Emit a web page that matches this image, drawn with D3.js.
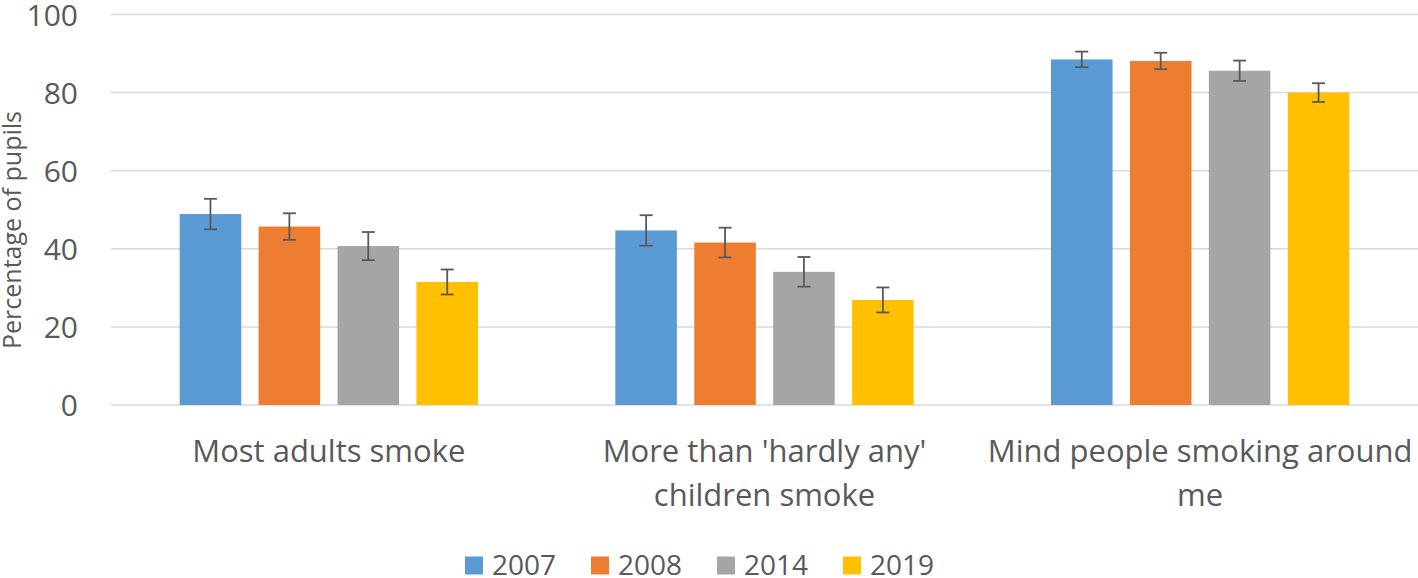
<!DOCTYPE html>
<html><head><meta charset="utf-8">
<script src="https://cdn.jsdelivr.net/npm/d3@7"></script>
<style>body{margin:0;background:#fff}svg{display:block}text{font-family:"Open Sans","Liberation Sans",sans-serif;fill:#595959}</style>
</head><body><svg id="c" width="1418" height="578"></svg>
<script>
const categories = ["Most adults smoke", "More than 'hardly any' children smoke", "Mind people smoking around me"];
const categoryLines = [["Most adults smoke"], ["More than 'hardly any'", "children smoke"], ["Mind people smoking around", "me"]];
const years = ["2007", "2008", "2014", "2019"];
const values2007 = [48.9, 44.7, 88.5];
const values2008 = [45.7, 41.6, 88.1];
const values2014 = [40.7, 34.1, 85.6];
const values2019 = [31.5, 26.9, 80.0];
const err2007 = [3.9, 3.9, 2.0];
const err2008 = [3.4, 3.8, 2.1];
const err2014 = [3.6, 3.8, 2.6];
const err2019 = [3.2, 3.2, 2.4];
const yTicks = [0, 20, 40, 60, 80, 100];
const colors = ["#5b9bd5", "#ed7d31", "#a5a5a5", "#ffc000"];

(function () {
const seriesVals = [values2007, values2008, values2014, values2019];
const seriesErr = [err2007, err2008, err2014, err2019];
const data = [];
categories.forEach((c, i) => years.forEach((yr, j) => data.push({cat: c, year: yr, v: seriesVals[j][i], e: seriesErr[j][i], color: colors[j]})));

const svg = d3.select("#c");
const mLeft = 111, mRight = 1418, mTop = 14.5, mBottom = 405;
const x = d3.scaleBand().domain(categories).range([mLeft, mRight]);
const xi = d3.scaleBand().domain(years).range([0, x.bandwidth()]).paddingInner(0.22).paddingOuter(0.87);
const y = d3.scaleLinear().domain([0, 100]).range([mBottom, mTop]);

svg.append("g").selectAll("line").data(yTicks).join("line")
  .attr("x1", mLeft).attr("x2", mRight).attr("y1", d => y(d)).attr("y2", d => y(d))
  .attr("stroke", "#d9d9d9").attr("stroke-width", 1.5);

const yAxis = svg.append("g").attr("transform", `translate(${mLeft},0)`)
  .call(d3.axisLeft(y).tickValues(yTicks).tickSize(0).tickPadding(33));
yAxis.select(".domain").remove();
yAxis.selectAll("text").attr("font-size", 30).attr("fill", "#595959").attr("dy", "0.36em")
  .style("font-family", '"Open Sans","Liberation Sans",sans-serif');

svg.append("text").attr("transform", "translate(21,230) rotate(-90)")
  .attr("text-anchor", "middle").attr("font-size", 25).text("Percentage of pupils");

svg.append("g").selectAll("rect").data(data).join("rect")
  .attr("x", d => x(d.cat) + xi(d.year)).attr("width", xi.bandwidth())
  .attr("y", d => y(d.v)).attr("height", d => y(0) - y(d.v))
  .attr("fill", d => d.color);

const eg = svg.append("g").attr("stroke", "#595959").attr("stroke-width", 1.8);
data.forEach(d => {
  const cx = x(d.cat) + xi(d.year) + xi.bandwidth() / 2;
  eg.append("line").attr("x1", cx).attr("x2", cx).attr("y1", y(d.v + d.e)).attr("y2", y(d.v - d.e));
  [d.v + d.e, d.v - d.e].forEach(v => eg.append("line").attr("x1", cx - 6.5).attr("x2", cx + 6.5).attr("y1", y(v)).attr("y2", y(v)));
});

categories.forEach((c, i) => {
  const t = svg.append("text").attr("text-anchor", "middle").attr("font-size", 31);
  categoryLines[i].forEach((l, k) => t.append("tspan").attr("x", x(c) + x.bandwidth() / 2).attr("y", 462 + k * 43.5).text(l));
});

const lg = svg.append("g");
years.forEach((yr, j) => {
  const lx = 465 + j * 126;
  lg.append("rect").attr("x", lx).attr("y", 556.5).attr("width", 18).attr("height", 18).attr("fill", colors[j]);
  lg.append("text").attr("x", lx + 27).attr("y", 575).attr("font-size", 28).text(yr);
});
})();
</script></body></html>
